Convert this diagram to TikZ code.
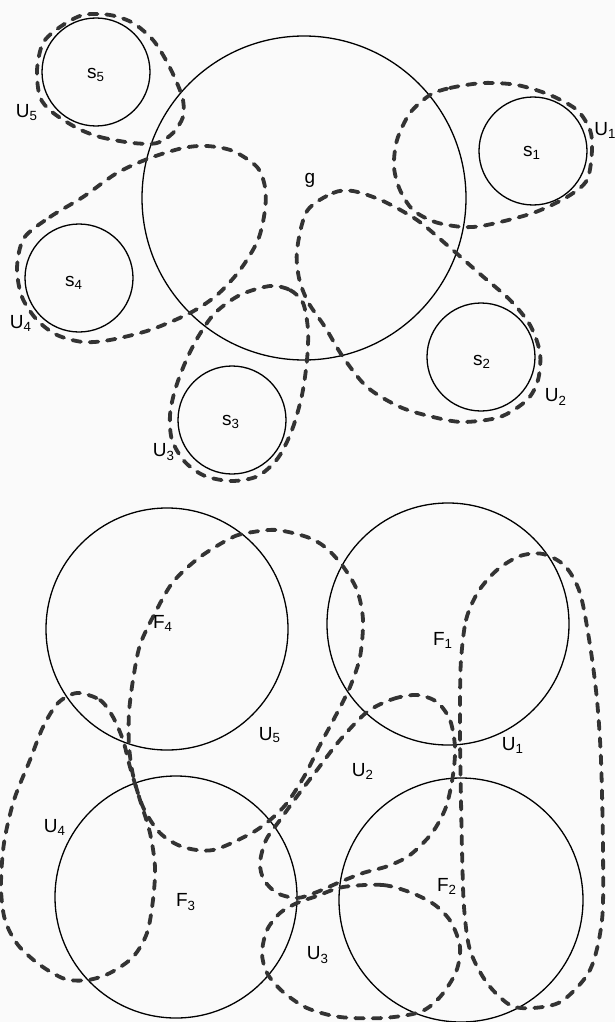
\documentclass[tikz,border=0pt]{standalone}
\usepackage{fontspec}
\setmainfont{Liberation Sans}
\begin{document}
\begin{tikzpicture}[x=0.5pt,y=-0.5pt,
  set/.style={draw=black, line width=0.65pt},
  nbhd/.style={draw=black!80, line width=1.9pt, line cap=round, dash pattern=on 4.3pt off 4.4pt},
  lab/.style={font=\fontsize{9.5}{10}\selectfont, inner sep=0pt}]
\useasboundingbox[fill=black!2] (0,0) rectangle (615,1022);
% ---------- top: g and the s_i ----------
\draw[set] (304,198) circle[radius=162];
\draw[set] (96,72) circle[radius=54];
\draw[set] (533,151) circle[radius=54];
\draw[set] (481,357) circle[radius=54];
\draw[set] (232,420) circle[radius=54];
\draw[set] (79,278) circle[radius=54];
% U5
\draw[nbhd] plot[smooth cycle] coordinates {(77,128) (100,137) (133,143) (157,143) (173,133) (183,117) (183,100) (177,83) (167,62) (153,40) (133,23) (110,15) (83,15) (60,27) (43,43) (37,70) (40,97) (52,112)};
% U4
\draw[nbhd] plot[smooth cycle] coordinates {(24,238) (50,217) (83,197) (117,173) (150,158) (183,148) (207,146) (233,151) (257,167) (265,187) (265,210) (258,240) (240,270) (217,295) (190,313) (150,330) (110,340) (83,342) (57,335) (37,320) (22,297) (17,268)};
% U3
\draw[nbhd] plot[smooth cycle] coordinates {(270,286) (290,290) (303,303) (308,330) (307,360) (302,395) (292,430) (278,458) (258,476) (232,481) (205,476) (185,462) (172,440) (170,415) (175,390) (185,363) (198,337) (215,313) (240,295)};
% U2
\draw[nbhd] plot[smooth cycle] coordinates {(307,211) (333,193) (353,191) (383,201) (417,220) (447,245) (480,274) (510,300) (530,325) (540,353) (538,380) (527,400) (500,417) (463,422) (433,417) (400,407) (367,387) (343,357) (325,327) (308,302) (299,278) (297,250)};
% U1
\draw[nbhd] plot[smooth cycle] coordinates {(430,95) (450,88) (483,83) (517,85) (550,95) (577,110) (590,130) (592,150) (587,180) (567,197) (533,213) (487,225) (463,227) (435,222) (413,210) (400,190) (394,167) (397,140) (410,113)};
% labels top
\node[lab] (ls5) at (96,75) {s\textsubscript{5}};
\node[lab] (lU5t) at (27,113) {U\textsubscript{5}};
\node[lab] (lg) at (310,180) {g};
\node[lab,anchor=west] (lU1t) at (594,130) {U\textsubscript{1}};
\node[lab] (ls1) at (532,153) {s\textsubscript{1}};
\node[lab] (ls4) at (74,283) {s\textsubscript{4}};
\node[lab] (lU4t) at (21,323) {U\textsubscript{4}};
\node[lab] (ls3) at (231,422) {s\textsubscript{3}};
\node[lab] (lU3t) at (164,452) {U\textsubscript{3}};
\node[lab] (ls2) at (482,362) {s\textsubscript{2}};
\node[lab] (lU2t) at (556,397) {U\textsubscript{2}};
% ---------- bottom: F_i ----------
\draw[set] (167,629) circle[radius=121];
\draw[set] (448,624) circle[radius=121];
\draw[set] (176,897) circle[radius=121];
\draw[set] (461,900) circle[radius=122];
% U5
\draw[nbhd] plot[smooth cycle] coordinates {(200,557) (233,537) (253,532) (277,530) (307,537) (325,547) (342,565) (357,590) (363,620) (360,657) (350,687) (336,715) (320,745) (305,775) (287,803) (270,820) (250,834) (213,850) (183,847) (160,833) (143,807) (133,775) (129,745) (129,713) (133,680) (140,645) (155,613) (173,582)};
% U4
\draw[nbhd] plot[smooth cycle] coordinates {(77,693) (100,700) (113,717) (123,740) (130,767) (140,800) (150,833) (155,867) (153,900) (147,933) (133,957) (110,973) (88,980) (65,979) (40,965) (18,945) (5,920) (1,887) (4,843) (14,800) (30,760) (43,727) (58,703)};
% U1
\draw[nbhd] plot[smooth cycle] coordinates {(461,660) (466,620) (478,592) (497,570) (520,556) (543,554) (565,566) (580,593) (590,645) (597,700) (601,760) (603,850) (602,920) (590,970) (562,1001) (533,1008) (510,1005) (487,983) (470,950) (464,907) (462,850) (461,800) (460,740) (460,700)};
% U2
\draw[nbhd] plot[smooth cycle] coordinates {(367,712) (393,699) (417,695) (437,702) (450,720) (455,747) (453,775) (446,807) (432,833) (410,855) (388,866) (363,873) (340,882) (317,892) (297,898) (277,893) (264,880) (260,863) (266,840) (280,820) (298,795) (317,770) (340,740)};
% U3
\draw[nbhd] plot[smooth cycle] coordinates {(343,887) (383,885) (412,893) (435,905) (451,922) (460,947) (456,972) (440,997) (420,1012) (383,1018) (340,1017) (307,1008) (282,991) (267,973) (262,953) (267,930) (280,913) (297,903) (317,896)};
% labels bottom
\node[lab] (lF4) at (163,623) {F\textsubscript{4}};
\node[lab] (lU5b) at (270,735) {U\textsubscript{5}};
\node[lab] (lF1) at (443,640) {F\textsubscript{1}};
\node[lab] (lU1b) at (513,745) {U\textsubscript{1}};
\node[lab] (lU2b) at (363,771) {U\textsubscript{2}};
\node[lab] (lF2) at (447,886) {F\textsubscript{2}};
\node[lab] (lF3) at (186,902) {F\textsubscript{3}};
\node[lab] (lU4b) at (55,827) {U\textsubscript{4}};
\node[lab] (lU3b) at (318,955) {U\textsubscript{3}};
\end{tikzpicture}
\end{document}
